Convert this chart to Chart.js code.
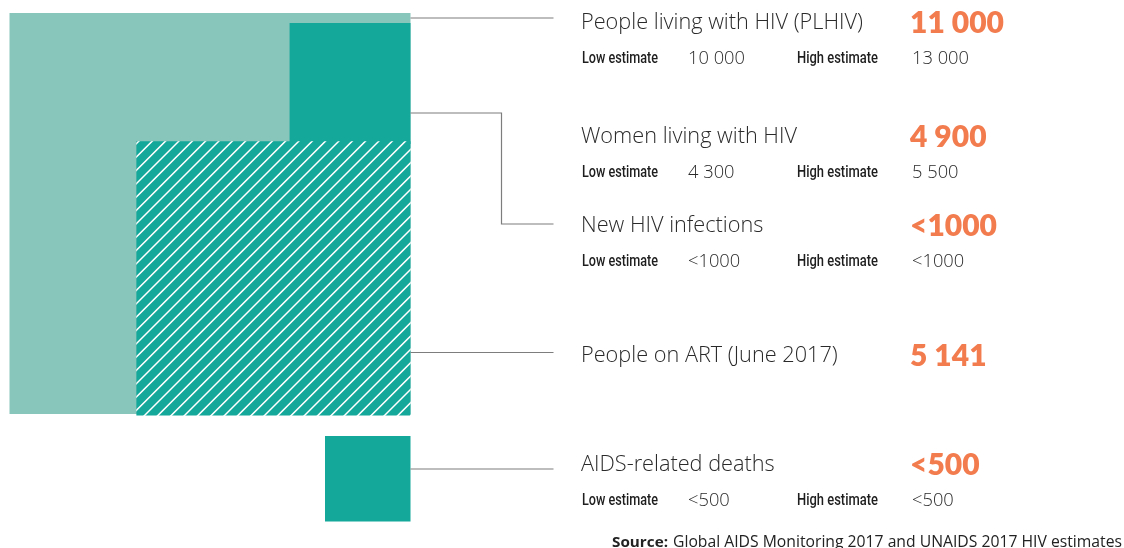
<!DOCTYPE html>
<html>
<head>
<meta charset="utf-8">
<script src="https://cdn.jsdelivr.net/npm/chart.js@4/dist/chart.umd.min.js"></script>
<style>
  html, body { margin: 0; padding: 0; background: #ffffff; }
  #wrap { position: relative; width: 1124px; height: 548px; }
</style>
</head>
<body>
<div id="wrap"><canvas id="c" width="1124" height="548"></canvas></div>
<script>
// Indicators and their estimates
const categories = [
  'People living with HIV (PLHIV)',
  'Women living with HIV',
  'New HIV infections',
  'People on ART (June 2017)',
  'AIDS-related deaths'
];
const values = [11000, 4900, 1000, 5141, 500];
const valueLabels = ['11 000', '4 900', '<1000', '5 141', '<500'];
const lowEstimates = ['10 000', '4 300', '<1000', null, '<500'];
const highEstimates = ['13 000', '5 500', '<1000', null, '<500'];
const sourceLabel = 'Source:';
const sourceText = 'Global AIDS Monitoring 2017 and UNAIDS 2017 HIV estimates';

// Which indicators get a proportional square
const hasSquare = [true, false, true, true, true];

// ---- layout (pixels) ----
const W = 1124, H = 548;
const LARGEST_SIDE = 401;                       // side of the biggest square
const k = LARGEST_SIDE / Math.sqrt(Math.max(...values)); // pixels per sqrt-unit
const squareAnchor = [
  { right: 410.5, top: 13 },
  null,
  { right: 410.5, top: 23 },
  { right: 410.5, bottom: 415.5 },
  { right: 410.5, top: 436 }
];
const squareFill = ['light', null, 'dark', 'hatch', 'dark'];
// y of label rows and leader lines
const rows = [
  { title: 29, lead: 18 },
  { title: 143 },
  { title: 232, lead: 224, fromY: 113, elbowX: 501.5 },
  { title: 362, lead: 352.5 },
  { title: 471, lead: 469 }
];
const TITLE_X = 581, VALUE_X = 910, LOW_X = 582, LOWV_X = 688, HIGH_X = 797, HIGHV_X = 912;
const LEAD_END = 553.5;
const TITLE_FONT = '"Open Sans", Lato, sans-serif';
const NUM_FONT = 'Lato, "Open Sans", sans-serif';
const COND_FONT = 'Roboto, "DejaVu Sans", sans-serif';

const LIGHT = '#88c5bb', DARK = '#13a89a', ORANGE = '#f37c4f', TEXT = '#333333', LINE = '#7d7d7d';

function hatchPattern() {
  const size = 40, period = 40 / 3;
  const c = document.createElement('canvas');
  c.width = c.height = size;
  const g = c.getContext('2d');
  g.fillStyle = DARK;
  g.fillRect(0, 0, size, size);
  g.strokeStyle = '#ffffff';
  g.lineWidth = 1.5;
  g.beginPath();
  for (let cst = 0; cst <= 2 * size + 0.01; cst += period) {
    g.moveTo(-2, cst + 2);
    g.lineTo(size + 2, cst - size - 2);
  }
  g.stroke();
  return c;
}

const canvas = document.getElementById('c');
const ctx0 = canvas.getContext('2d');
const pattern = ctx0.createPattern(hatchPattern(), 'repeat');

// Build square points (centres in sqrt-units)
const idx = [];
const points = [];
values.forEach((v, i) => {
  if (!hasSquare[i]) return;
  const side = Math.sqrt(v);
  const a = squareAnchor[i];
  const cx = a.right / k - side / 2;
  const cy = a.top !== undefined ? a.top / k + side / 2 : a.bottom / k - side / 2;
  idx.push(i);
  points.push({ x: cx, y: cy });
});

const fillFor = (kind) => kind === 'light' ? LIGHT : kind === 'hatch' ? pattern : DARK;

// draws text squeezed horizontally to a given width (condensed look)
function fillCondensed(ctx, text, x, y, width) {
  const w = ctx.measureText(text).width;
  ctx.save();
  ctx.translate(x, y);
  ctx.scale(width / w, 1);
  ctx.fillText(text, 0, 0);
  ctx.restore();
}

const labelsPlugin = {
  id: 'labels',
  afterDatasetsDraw(chart) {
    const ctx = chart.ctx;
    const meta = chart.getDatasetMeta(0);
    const xs = chart.scales.x;
    ctx.save();

    // leader lines
    ctx.strokeStyle = LINE;
    ctx.lineWidth = 1.2;
    meta.data.forEach((el, j) => {
      const i = idx[j];
      const r = rows[i];
      if (r.lead === undefined) return;
      const half = (xs.getPixelForValue(Math.sqrt(values[i])) - xs.getPixelForValue(0)) / 2;
      const edge = el.x + half;
      ctx.beginPath();
      if (r.fromY !== undefined) {
        ctx.moveTo(edge, r.fromY);
        ctx.lineTo(r.elbowX, r.fromY);
        ctx.lineTo(r.elbowX, r.lead);
        ctx.lineTo(LEAD_END, r.lead);
      } else {
        ctx.moveTo(edge, r.lead);
        ctx.lineTo(LEAD_END, r.lead);
      }
      ctx.stroke();
    });

    // title size chosen so the first title spans 282px
    ctx.font = '300 20px ' + TITLE_FONT;
    const titleSize = 20 * 282 / ctx.measureText(categories[0]).width;
    ctx.font = '300 17px ' + TITLE_FONT;
    const numSize = 17 * 57 / ctx.measureText('10 000').width;

    ctx.textBaseline = 'alphabetic';
    ctx.textAlign = 'left';
    categories.forEach((name, i) => {
      const r = rows[i];
      ctx.fillStyle = '#2a2a2a';
      ctx.font = '300 ' + titleSize.toFixed(2) + 'px ' + TITLE_FONT;
      ctx.fillText(name, TITLE_X, r.title);
      ctx.fillStyle = ORANGE;
      ctx.font = '800 30px ' + NUM_FONT;
      ctx.fillText(valueLabels[i], VALUE_X, r.title + 4);
      if (lowEstimates[i] !== null) {
        const y = r.title + 34;
        ctx.fillStyle = '#1e1e1e';
        ctx.font = '500 16px ' + COND_FONT;
        fillCondensed(ctx, 'Low estimate', LOW_X, y, 76);
        fillCondensed(ctx, 'High estimate', HIGH_X, y, 81);
        ctx.fillStyle = '#2a2a2a';
        ctx.font = '300 ' + numSize.toFixed(2) + 'px ' + TITLE_FONT;
        ctx.fillText(lowEstimates[i], LOWV_X, y + 1);
        ctx.fillText(highEstimates[i], HIGHV_X, y + 1);
      }
    });

    // source line
    ctx.fillStyle = '#222222';
    ctx.font = 'bold 15px ' + TITLE_FONT;
    fillCondensed(ctx, sourceLabel, 612, 546.5, 56);
    ctx.font = '15px ' + TITLE_FONT;
    const sw = ctx.measureText(sourceText).width;
    ctx.font = (15 * 449 / sw).toFixed(2) + 'px ' + TITLE_FONT;
    ctx.fillText(sourceText, 673, 546.5);
    ctx.restore();
  }
};

new Chart(canvas, {
  type: 'scatter',
  data: {
    datasets: [{
      data: points,
      pointStyle: 'rect',
      borderWidth: 0,
      backgroundColor: (c) => fillFor(squareFill[idx[c.dataIndex]]),
      pointRadius: (c) => {
        const s = c.chart.scales.x;
        const side = Math.sqrt(values[idx[c.dataIndex]]);
        return (s.getPixelForValue(side) - s.getPixelForValue(0)) / Math.SQRT2;
      },
      clip: false
    }]
  },
  options: {
    responsive: false,
    animation: false,
    events: [],
    layout: { padding: 0 },
    plugins: { legend: { display: false }, tooltip: { enabled: false } },
    scales: {
      x: { type: 'linear', display: false, min: 0, max: W / k },
      y: { type: 'linear', display: false, min: 0, max: H / k, reverse: true }
    }
  },
  plugins: [labelsPlugin]
});
</script>
</body>
</html>
